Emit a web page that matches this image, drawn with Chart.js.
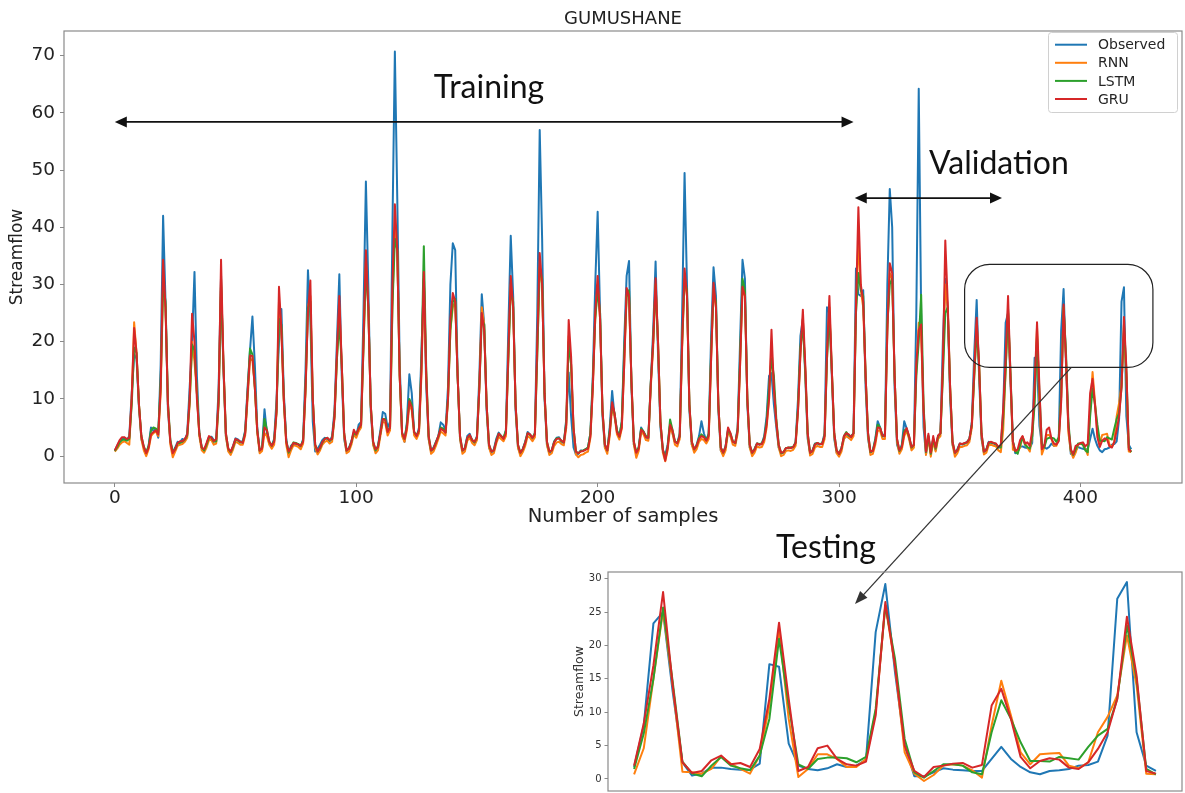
<!DOCTYPE html>
<html>
<head>
<meta charset="utf-8">
<script src="https://cdn.jsdelivr.net/npm/chart.js@4.4.1/dist/chart.umd.min.js"></script>
<style>
  html, body { margin: 0; padding: 0; background: #ffffff; overflow: hidden; width: 1185px; height: 793px; }
  #mainCanvas { position: absolute; left: 0; top: 0; }
  #insetCanvas { position: absolute; left: 560px; top: 560px; }
</style>
</head>
<body>
<canvas id="mainCanvas" width="1185" height="793"></canvas>
<canvas id="insetCanvas" width="625" height="240"></canvas>
<script>
// ---- labels, ticks and colours ----
const chartTitle = 'GUMUSHANE';
const xAxisTitle = 'Number of samples';
const yAxisTitle = 'Streamflow';
const seriesNames = ['Observed', 'RNN', 'LSTM', 'GRU'];
const seriesColors = ['#1f77b4', '#ff7f0e', '#2ca02c', '#d62728'];
const xTickValues = [0, 100, 200, 300, 400];
const yTickValues = [0, 10, 20, 30, 40, 50, 60, 70];
const insetYTickValues = [0, 5, 10, 15, 20, 25, 30];

// ---- monthly streamflow, samples 0-366 (training + validation) ----
const observedTrainVal = [
  1.0, 1.8, 2.6, 3.1, 3.2, 2.8, 3.5, 11.0, 17.8, 17.0,
  8.5, 3.0, 1.5, 0.3, 1.8, 5.0, 4.4, 4.8, 3.2, 16.0,
  42.0, 27.0, 8.0, 2.5, 0.6, 1.5, 2.5, 2.4, 3.0, 2.8,
  4.0, 12.0, 20.0, 32.2, 14.0, 4.0, 1.5, 1.0, 2.0, 3.3,
  3.4, 2.8, 2.6, 12.0, 31.5, 15.0, 3.5, 1.0, 0.6, 1.8,
  3.1, 2.9, 2.5, 2.6, 4.5, 12.0, 18.5, 24.4, 16.0, 5.0,
  0.8, 1.5, 8.2, 4.0, 2.2, 1.8, 3.0, 10.0, 20.0, 25.7,
  11.0, 3.0, 0.5, 1.8, 2.2, 2.0, 2.1, 1.6, 3.0, 15.0,
  32.5, 24.0, 6.0, 0.8, 1.3, 2.0, 2.8, 3.2, 3.0, 2.6,
  3.5, 8.0, 20.0, 31.8, 14.0, 3.0, 0.8, 1.5, 2.6, 4.2,
  3.5, 5.5, 6.0, 25.0, 48.0, 30.0, 8.0, 2.0, 1.0, 1.8,
  4.5, 7.7, 7.4, 5.0, 6.0, 40.0, 70.7, 45.0, 16.0, 4.0,
  2.5, 6.0, 14.3, 11.0, 4.0, 3.3, 5.0, 18.0, 31.0, 12.0,
  3.0, 0.8, 1.5, 2.5, 3.5, 5.9, 5.5, 4.5, 12.0, 30.0,
  37.2, 36.0, 14.0, 3.0, 0.8, 1.5, 3.5, 3.9, 2.8, 2.3,
  3.5, 14.0, 28.3, 23.0, 8.0, 1.5, 0.6, 1.2, 3.0, 4.1,
  3.5, 3.0, 4.5, 22.0, 38.5, 28.0, 8.0, 1.5, 0.4, 1.3,
  2.5, 4.2, 3.8, 3.0, 4.0, 25.0, 57.0, 38.0, 10.0, 2.0,
  0.5, 1.0, 2.6, 3.2, 3.3, 2.6, 2.2, 6.5, 14.6, 7.0,
  1.5, 0.3, 0.4, 1.0, 0.9, 1.2, 1.5, 4.0, 14.0, 30.0,
  42.7, 25.0, 7.0, 1.5, 1.0, 5.0, 11.4, 7.0, 4.5, 3.5,
  6.0, 20.0, 31.5, 34.1, 12.0, 2.0, 0.6, 1.5, 5.0, 4.2,
  3.3, 3.0, 12.6, 22.0, 34.0, 18.0, 5.0, 1.0, 0.2, 2.0,
  5.5, 4.0, 2.5, 2.2, 4.0, 25.0, 49.5, 30.0, 8.0, 2.0,
  1.1, 2.0, 3.5, 6.1, 4.0, 2.7, 4.0, 21.0, 33.0, 28.0,
  8.0, 1.0, 0.5, 1.8, 4.6, 3.5, 2.5, 2.2, 5.0, 20.0,
  34.3, 31.0, 9.0, 1.5, 0.5, 1.3, 2.2, 2.0, 2.2, 3.5,
  7.0, 14.0, 14.5, 9.0, 5.0, 1.5, 0.5, 0.6, 1.4, 1.4,
  1.5, 1.5, 2.5, 10.0, 21.0, 24.0, 14.0, 3.0, 0.5, 1.0,
  2.2, 2.2, 2.0, 2.2, 4.0, 26.0, 25.0, 14.0, 3.0, 0.6,
  0.3, 1.5, 3.0, 3.7, 3.2, 3.5, 4.0, 32.8, 28.3, 28.0,
  29.0, 12.0, 3.0, 0.6, 1.0, 3.0, 6.1, 5.0, 3.3, 4.0,
  30.0, 46.7, 40.0, 12.0, 2.0, 0.8, 2.0, 6.1, 4.8, 3.3,
  1.4, 2.0, 25.0, 64.2, 25.0, 5.0, 0.3, 3.5, 0.5, 3.0,
  1.0, 3.5, 4.0, 20.0, 31.0, 26.0, 10.0, 2.0, 0.5, 1.2,
  2.2, 2.0, 2.2, 2.5, 3.0, 6.0, 18.0, 27.3, 14.0, 3.0,
  0.6, 1.2, 2.5, 2.3, 2.2, 2.0, 1.5
];
const rnnTrainVal = [
  0.8, 1.3, 2.0, 2.4, 2.6, 2.3, 2.0, 10.0, 23.4, 18.0,
  9.0, 3.0, 1.0, 0.0, 1.2, 3.5, 4.0, 4.3, 3.5, 11.0,
  30.0, 26.0, 9.0, 2.0, -0.2, 0.8, 1.8, 2.0, 2.1, 2.5,
  3.2, 9.0, 20.0, 16.5, 11.0, 3.5, 1.0, 0.6, 1.5, 2.8,
  2.8, 2.0, 2.2, 9.0, 31.0, 16.0, 3.5, 0.8, 0.2, 1.2,
  2.5, 2.3, 2.0, 2.0, 3.6, 10.0, 17.0, 16.8, 12.0, 4.0,
  0.5, 0.9, 4.0, 3.5, 2.0, 1.3, 2.0, 7.5, 27.0, 22.0,
  9.5, 2.0, -0.2, 1.0, 1.9, 1.8, 1.6, 1.2, 2.2, 11.0,
  26.0, 28.0, 10.0, 1.5, 0.3, 1.0, 2.0, 2.5, 2.7, 2.2,
  2.5, 6.5, 17.0, 26.0, 16.0, 3.5, 0.5, 0.8, 2.0, 3.8,
  3.2, 4.3, 5.0, 19.0, 34.0, 26.0, 9.0, 2.0, 0.5, 1.0,
  3.5, 6.0, 5.8, 3.6, 4.5, 27.0, 40.0, 36.0, 14.0, 3.5,
  2.5, 4.5, 9.0, 8.0, 3.6, 3.0, 4.0, 14.0, 31.0, 14.0,
  3.0, 0.4, 0.8, 1.8, 3.0, 4.3, 4.0, 3.6, 9.5, 22.0,
  26.0, 27.0, 14.0, 3.0, 0.4, 0.8, 2.7, 3.2, 2.3, 1.9,
  2.8, 12.0, 26.0, 23.0, 9.0, 1.5, 0.2, 0.5, 2.2, 3.4,
  3.0, 2.6, 3.5, 17.0, 30.0, 26.0, 9.0, 1.5, 0.0, 0.7,
  1.8, 3.5, 3.2, 2.6, 3.3, 18.0, 33.0, 30.0, 11.0, 2.0,
  0.2, 0.5, 1.8, 2.4, 2.5, 2.1, 1.9, 5.0, 21.0, 16.0,
  4.5, 0.3, -0.2, 0.2, 0.3, 0.6, 0.8, 3.2, 12.0, 24.0,
  30.0, 24.0, 8.0, 1.5, 0.4, 3.5, 8.5, 7.0, 3.8, 2.9,
  4.8, 16.0, 28.0, 28.0, 13.0, 2.0, -0.3, 0.9, 4.2, 3.8,
  2.8, 2.7, 12.0, 19.0, 30.0, 20.0, 6.0, 0.6, -0.9, 1.0,
  5.0, 4.0, 2.0, 1.7, 3.0, 19.0, 31.0, 28.0, 9.0, 2.0,
  0.6, 1.2, 2.5, 3.0, 2.8, 2.2, 3.0, 17.0, 29.0, 26.0,
  9.0, 1.0, 0.0, 1.0, 4.2, 3.5, 2.0, 1.8, 4.0, 16.0,
  29.0, 28.0, 10.0, 1.5, 0.0, 0.6, 1.7, 1.5, 1.6, 2.5,
  5.0, 10.0, 19.0, 12.0, 6.0, 1.5, 0.0, 0.2, 0.9, 1.0,
  0.9, 1.1, 1.8, 8.0, 18.0, 24.0, 15.0, 3.5, 0.1, 0.4,
  1.5, 1.8, 1.6, 1.6, 3.0, 17.0, 26.0, 15.0, 3.5, 0.5,
  -0.1, 0.8, 3.0, 3.5, 3.2, 2.8, 3.5, 25.0, 38.0, 29.0,
  26.0, 14.0, 3.5, 0.2, 0.4, 2.0, 4.5, 4.4, 3.0, 3.0,
  22.0, 32.0, 31.0, 14.0, 2.5, 0.4, 1.2, 3.5, 4.4, 3.0,
  1.0, 1.5, 15.0, 23.3, 21.0, 8.0, 0.2, 3.2, -0.1, 2.6,
  0.8, 3.0, 3.5, 15.0, 30.0, 26.0, 12.0, 2.0, -0.1, 0.5,
  1.6, 1.6, 1.8, 1.9, 2.5, 5.0, 14.0, 23.0, 16.0, 3.5,
  0.3, 0.6, 1.9, 2.0, 1.8, 1.7, 1.0
];
const lstmTrainVal = [
  0.9, 1.6, 2.4, 2.8, 2.9, 2.7, 3.0, 9.0, 19.0, 18.0,
  9.0, 3.5, 1.7, 0.6, 1.8, 4.5, 5.0, 4.8, 4.2, 13.0,
  30.0, 27.0, 9.5, 2.8, 0.8, 1.2, 2.2, 2.3, 2.5, 2.9,
  3.6, 9.5, 19.5, 18.5, 11.0, 4.0, 1.5, 1.0, 2.0, 3.3,
  3.2, 2.5, 2.6, 9.5, 30.0, 16.0, 4.0, 1.3, 0.7, 1.6,
  2.9, 2.7, 2.4, 2.4, 4.2, 11.0, 18.8, 17.8, 12.0, 4.5,
  1.0, 1.4, 6.5, 4.6, 2.5, 1.8, 2.7, 8.0, 24.0, 23.0,
  10.0, 2.7, 0.6, 1.5, 2.4, 2.3, 2.1, 1.8, 2.7, 12.0,
  26.0, 27.0, 10.0, 2.0, 0.8, 1.4, 2.4, 3.0, 3.2, 2.7,
  3.0, 7.0, 17.0, 23.5, 16.0, 4.0, 1.0, 1.3, 2.5, 4.0,
  3.8, 4.8, 5.5, 19.0, 33.0, 26.0, 9.0, 2.5, 1.0, 1.6,
  4.0, 6.5, 6.5, 4.4, 5.0, 26.0, 38.0, 36.0, 14.0, 4.0,
  3.0, 5.5, 10.0, 9.0, 4.2, 3.6, 4.5, 16.0, 36.7, 15.0,
  3.5, 1.0, 1.3, 2.4, 3.4, 5.0, 4.8, 4.2, 10.0, 22.0,
  27.0, 27.5, 14.0, 3.5, 1.0, 1.3, 3.2, 3.6, 2.8, 2.4,
  3.3, 12.0, 24.0, 23.0, 9.0, 2.0, 0.8, 1.0, 2.7, 3.9,
  3.5, 3.2, 4.5, 17.0, 29.0, 27.0, 9.0, 2.0, 0.6, 1.2,
  2.4, 4.0, 3.7, 3.2, 4.0, 18.0, 33.0, 31.0, 11.0, 2.5,
  0.8, 1.0, 2.5, 3.1, 3.1, 2.6, 2.4, 6.0, 20.0, 16.0,
  5.0, 0.8, 0.5, 0.9, 1.0, 1.2, 1.5, 4.0, 13.0, 24.0,
  29.0, 25.0, 8.0, 2.0, 1.0, 4.5, 9.0, 7.5, 4.5, 3.4,
  6.0, 18.0, 28.0, 29.0, 13.0, 2.5, 0.7, 1.5, 4.8, 4.3,
  3.5, 3.3, 12.8, 20.0, 30.0, 20.0, 6.0, 1.2, -0.4, 1.6,
  6.4, 4.6, 2.6, 2.3, 3.5, 20.0, 31.0, 29.0, 9.0, 2.5,
  1.2, 1.8, 3.2, 3.8, 3.4, 2.8, 3.8, 18.0, 29.0, 27.0,
  9.0, 1.5, 0.6, 1.6, 4.6, 4.0, 2.6, 2.3, 4.6, 17.0,
  31.0, 29.0, 10.0, 2.0, 0.6, 1.2, 2.2, 2.1, 2.2, 3.2,
  6.0, 12.0, 17.0, 14.0, 6.5, 2.0, 0.5, 0.7, 1.4, 1.5,
  1.5, 1.6, 2.4, 8.5, 19.0, 23.0, 15.0, 4.0, 0.6, 0.9,
  2.1, 2.3, 2.1, 2.2, 3.6, 17.0, 25.0, 15.0, 4.0, 1.0,
  0.4, 1.4, 3.5, 4.2, 3.6, 3.4, 4.0, 25.0, 32.0, 29.0,
  28.0, 14.0, 4.0, 0.7, 1.0, 2.8, 5.5, 5.0, 3.5, 3.6,
  23.0, 30.0, 31.0, 14.0, 3.0, 0.9, 1.8, 4.5, 4.7, 3.4,
  1.5, 2.0, 14.0, 20.0, 28.2, 9.0, 0.7, 3.5, 0.4, 3.0,
  1.3, 3.4, 4.0, 14.0, 25.0, 26.0, 12.0, 2.5, 0.6, 1.0,
  2.1, 2.1, 2.2, 2.4, 3.0, 5.5, 14.0, 22.0, 16.0, 4.0,
  0.8, 1.1, 2.3, 2.4, 2.3, 2.1, 1.5
];
const gruTrainVal = [
  1.0, 1.9, 2.8, 3.3, 3.3, 3.0, 3.2, 10.0, 22.4, 18.0,
  9.0, 3.5, 1.6, 0.5, 1.5, 3.8, 4.2, 4.5, 3.8, 12.0,
  34.3, 26.0, 9.0, 2.5, 0.5, 1.2, 2.3, 2.6, 2.6, 3.0,
  3.8, 10.0, 24.9, 20.0, 10.0, 4.0, 1.5, 1.2, 2.3, 3.5,
  3.2, 2.6, 3.0, 10.0, 34.3, 16.0, 4.0, 1.3, 0.8, 1.8,
  3.0, 2.8, 2.5, 2.3, 4.0, 11.0, 17.6, 17.5, 12.0, 4.5,
  1.0, 1.3, 5.0, 4.5, 2.5, 1.8, 2.5, 8.0, 29.6, 22.0,
  10.0, 2.5, 0.8, 1.5, 2.3, 2.2, 2.0, 1.8, 2.5, 12.0,
  25.0, 30.7, 10.0, 2.0, 0.8, 1.5, 2.5, 3.0, 3.2, 2.8,
  3.0, 7.0, 18.0, 28.0, 16.0, 4.0, 1.0, 1.3, 2.5, 4.6,
  3.8, 4.8, 5.5, 20.0, 36.0, 26.0, 9.0, 2.5, 1.2, 1.6,
  4.0, 6.5, 6.3, 4.2, 5.0, 30.0, 44.0, 36.0, 14.0, 4.0,
  3.0, 5.0, 9.6, 8.5, 4.2, 3.5, 4.5, 15.0, 32.2, 14.0,
  3.5, 1.0, 1.3, 2.3, 3.5, 4.8, 4.5, 4.1, 10.0, 24.0,
  28.5, 27.0, 14.0, 3.5, 1.0, 1.3, 3.2, 3.7, 2.8, 2.5,
  3.2, 12.0, 25.0, 22.0, 9.0, 2.0, 0.8, 1.0, 2.6, 3.9,
  3.5, 3.0, 4.0, 18.0, 31.5, 26.0, 9.0, 2.0, 0.6, 1.2,
  2.3, 4.0, 3.8, 3.2, 3.8, 20.0, 35.5, 30.0, 11.0, 2.5,
  0.8, 1.0, 2.4, 3.0, 3.1, 2.7, 2.4, 5.5, 23.8, 17.4,
  5.0, 0.8, 0.5, 0.8, 0.9, 1.1, 1.3, 3.5, 12.0, 25.0,
  31.5, 24.0, 8.0, 2.0, 1.0, 4.0, 9.4, 7.5, 4.2, 3.4,
  5.0, 16.0, 29.4, 28.0, 13.0, 2.5, 0.6, 1.3, 4.6, 4.2,
  3.3, 3.2, 12.5, 20.0, 31.1, 20.0, 6.0, 1.2, -0.8, 1.5,
  5.5, 4.5, 2.5, 2.2, 3.5, 20.0, 32.8, 28.0, 9.0, 2.5,
  1.2, 1.8, 3.0, 3.5, 3.3, 2.7, 3.5, 17.0, 30.3, 26.0,
  9.0, 1.5, 0.6, 1.6, 5.0, 4.0, 2.5, 2.3, 4.5, 16.0,
  29.6, 28.0, 10.0, 2.0, 0.6, 1.1, 2.2, 2.0, 2.1, 3.0,
  5.5, 10.0, 22.1, 12.0, 6.0, 2.0, 0.6, 0.7, 1.4, 1.5,
  1.4, 1.6, 2.3, 8.0, 18.0, 25.6, 16.0, 4.0, 0.6, 0.9,
  2.0, 2.3, 2.1, 2.1, 3.5, 18.0, 28.0, 15.0, 4.0, 1.0,
  0.4, 1.3, 3.5, 4.0, 3.8, 3.3, 4.0, 26.0, 43.5, 30.0,
  27.0, 14.0, 4.0, 0.8, 0.9, 2.5, 5.0, 4.9, 3.6, 3.5,
  22.0, 33.7, 32.0, 14.0, 3.0, 1.0, 1.6, 4.0, 4.9, 3.5,
  1.6, 2.0, 16.0, 22.0, 23.0, 8.0, 0.8, 3.9, 0.6, 3.5,
  1.5, 3.6, 4.0, 16.0, 37.7, 27.0, 12.0, 2.5, 0.6, 1.0,
  2.2, 2.1, 2.3, 2.4, 3.0, 5.5, 15.0, 24.2, 16.0, 4.0,
  0.8, 1.1, 2.4, 2.5, 2.3, 2.2, 1.6
];

// ---- testing period, samples 367-421 ----
const observedTest = [
  1.8, 8.0, 23.3, 25.0, 13.0, 2.5, 0.5, 0.8, 1.7, 1.7,
  1.5, 1.4, 1.4, 2.3, 17.2, 16.8, 5.3, 2.0, 1.5, 1.3,
  1.6, 2.2, 1.8, 2.0, 2.9, 22.0, 29.2, 16.0, 5.0, 0.4,
  0.4, 1.0, 1.6, 1.4, 1.3, 1.2, 1.2, 3.0, 4.8, 3.0,
  1.8, 1.0, 0.7, 1.2, 1.3, 1.5, 2.0, 2.1, 2.6, 6.5,
  27.0, 29.5, 7.0, 2.0, 1.2
];
const rnnTest = [
  0.7, 4.6, 15.0, 25.2, 14.0, 1.1, 1.0, 0.8, 1.5, 3.4,
  2.3, 1.5, 0.8, 3.5, 11.0, 22.5, 9.0, 0.3, 1.5, 3.7,
  3.7, 3.0, 1.8, 1.8, 3.0, 10.0, 26.0, 17.0, 4.0, 0.8,
  -0.3, 0.6, 2.0, 2.2, 2.0, 1.3, 0.2, 8.0, 14.7, 9.5,
  4.0, 2.2, 3.7, 3.8, 3.9, 2.0, 1.6, 2.5, 7.0, 9.3,
  12.5, 21.5, 14.0, 0.8, 0.7
];
const lstmTest = [
  1.5, 6.8, 15.0, 25.7, 14.5, 2.6, 0.8, 0.4, 2.0, 3.3,
  2.0, 1.6, 1.3, 3.5, 9.0, 21.0, 11.0, 2.2, 1.5, 3.0,
  3.2, 3.2, 3.1, 2.5, 3.3, 10.5, 26.0, 18.0, 6.0, 1.0,
  0.2, 1.2, 2.2, 2.2, 2.0, 1.0, 0.7, 7.0, 11.8, 9.0,
  5.5, 2.7, 2.7, 2.6, 3.3, 3.1, 2.9, 4.8, 6.5, 7.5,
  12.0, 23.0, 15.0, 1.5, 0.7
];
const gruTest = [
  2.0, 8.3, 17.0, 28.0, 14.0, 2.5, 0.9, 1.2, 2.8, 3.5,
  2.2, 2.4, 1.8, 4.5, 12.0, 23.4, 12.0, 1.2, 1.8, 4.6,
  5.0, 3.0, 2.2, 2.0, 2.6, 9.5, 26.5, 17.0, 5.0, 1.2,
  0.3, 1.8, 2.0, 2.3, 2.4, 1.7, 2.1, 11.0, 13.5, 9.0,
  3.3, 1.6, 2.7, 3.1, 2.9, 1.7, 1.5, 2.5, 4.5, 7.0,
  12.0, 24.3, 15.5, 1.2, 0.8
];

// ---- helpers ----
const fullSeries = [
  observedTrainVal.concat(observedTest),
  rnnTrainVal.concat(rnnTest),
  lstmTrainVal.concat(lstmTest),
  gruTrainVal.concat(gruTest)
];
const testSeries = [observedTest, rnnTest, lstmTest, gruTest];
const toPoints = vals => vals.map((v, i) => ({ x: i, y: v }));
const fixedTicks = values => scale => { scale.ticks = values.map(v => ({ value: v })); };
const dejavu = "'DejaVu Sans', 'Liberation Sans', sans-serif";
const calloutFont = "Lato, 'Open Sans', sans-serif";

function makeDatasets(seriesList, width) {
  return seriesList.map((vals, k) => ({
    label: seriesNames[k],
    data: toPoints(vals),
    borderColor: seriesColors[k],
    backgroundColor: seriesColors[k],
    borderWidth: width,
    pointRadius: 0,
    tension: 0,
    fill: false,
    borderJoinStyle: 'round',
    order: seriesNames.length - 1 - k
  }));
}

function arrowHead(ctx, x0, y0, x1, y1, len, half) {
  const a = Math.atan2(y1 - y0, x1 - x0);
  const c = Math.cos(a), s = Math.sin(a);
  ctx.beginPath();
  ctx.moveTo(x1, y1);
  ctx.lineTo(x1 - len * c + half * s, y1 - len * s - half * c);
  ctx.lineTo(x1 - len * c - half * s, y1 - len * s + half * c);
  ctx.closePath();
  ctx.fill();
}

function arrowLine(ctx, x0, y0, x1, y1, len, half, both) {
  const a = Math.atan2(y1 - y0, x1 - x0);
  const c = Math.cos(a), s = Math.sin(a);
  ctx.beginPath();
  ctx.moveTo(both ? x0 + len * c * 0.8 : x0, both ? y0 + len * s * 0.8 : y0);
  ctx.lineTo(x1 - len * c * 0.8, y1 - len * s * 0.8);
  ctx.stroke();
  arrowHead(ctx, x0, y0, x1, y1, len, half);
  if (both) arrowHead(ctx, x1, y1, x0, y0, len, half);
}

// period markers (x in sample numbers, y in streamflow units)
const trainingSpan = { from: 0, to: 306, y: 58.4 };
const validationSpan = { from: 306.5, to: 367.5, y: 45.1 };
const testBox = { x0: 352, x1: 430, y0: 15.5, y1: 33.5, radius: 25 };
const testPointer = { x: 396.2, y: 15.5, endPx: 855, endPy: 604 };

const frameAndNotes = {
  id: 'frameAndNotes',
  afterDraw(chart) {
    const { ctx, chartArea: ca, scales: { x, y } } = chart;
    ctx.save();
    // axes frame
    ctx.strokeStyle = '#8a8a8a';
    ctx.lineWidth = 1.2;
    ctx.strokeRect(ca.left, ca.top, ca.right - ca.left, ca.bottom - ca.top);

    // legend
    const lx = 1048, ly = 32, lw = 129, lh = 80;
    ctx.fillStyle = 'rgba(255,255,255,0.85)';
    ctx.strokeStyle = '#d0d0d0';
    ctx.lineWidth = 1;
    ctx.beginPath();
    ctx.roundRect(lx + 0.5, ly + 0.5, lw, lh, 3);
    ctx.fill();
    ctx.stroke();
    ctx.font = '14px ' + dejavu;
    ctx.textBaseline = 'middle';
    ctx.textAlign = 'left';
    chart.data.datasets.forEach((ds, k) => {
      const ry = 44.7 + k * 18.1;
      ctx.strokeStyle = ds.borderColor;
      ctx.lineWidth = 2;
      ctx.beginPath();
      ctx.moveTo(1055, ry);
      ctx.lineTo(1087, ry);
      ctx.stroke();
      ctx.fillStyle = '#262626';
      ctx.fillText(ds.label, 1098, ry + 1);
    });

    // training / validation arrows
    ctx.strokeStyle = '#111';
    ctx.fillStyle = '#111';
    ctx.lineWidth = 1.8;
    arrowLine(ctx, x.getPixelForValue(trainingSpan.from), y.getPixelForValue(trainingSpan.y),
      x.getPixelForValue(trainingSpan.to), y.getPixelForValue(trainingSpan.y), 12, 5.5, true);
    arrowLine(ctx, x.getPixelForValue(validationSpan.from), y.getPixelForValue(validationSpan.y),
      x.getPixelForValue(validationSpan.to), y.getPixelForValue(validationSpan.y), 12, 5.5, true);

    // callout words
    ctx.fillStyle = '#111';
    ctx.font = '32px ' + calloutFont;
    ctx.textAlign = 'center';
    ctx.textBaseline = 'alphabetic';
    ctx.fillText('Training', x.getPixelForValue(155), 98);
    ctx.fillText('Validation', x.getPixelForValue(366.2), 174);
    ctx.fillText('Testing', 826, 558);

    // box round the testing period and pointer to the enlarged view
    ctx.strokeStyle = '#222';
    ctx.lineWidth = 1.2;
    const bx0 = x.getPixelForValue(testBox.x0), bx1 = x.getPixelForValue(testBox.x1);
    const by0 = y.getPixelForValue(testBox.y1), by1 = y.getPixelForValue(testBox.y0);
    ctx.beginPath();
    ctx.roundRect(bx0, by0, bx1 - bx0, by1 - by0, testBox.radius);
    ctx.stroke();
    ctx.strokeStyle = '#333';
    ctx.fillStyle = '#333';
    ctx.lineWidth = 1.3;
    arrowLine(ctx, x.getPixelForValue(testPointer.x), y.getPixelForValue(testPointer.y),
      testPointer.endPx, testPointer.endPy, 13, 5, false);
    ctx.restore();
  }
};

const insetFrame = {
  id: 'insetFrame',
  afterDraw(chart) {
    const { ctx, chartArea: ca } = chart;
    ctx.save();
    ctx.strokeStyle = '#8a8a8a';
    ctx.lineWidth = 1.2;
    ctx.strokeRect(ca.left, ca.top, ca.right - ca.left, ca.bottom - ca.top);
    ctx.restore();
  }
};

// ---- main chart ----
new Chart(document.getElementById('mainCanvas'), {
  type: 'line',
  data: { datasets: makeDatasets(fullSeries, 2) },
  options: {
    responsive: false,
    animation: false,
    devicePixelRatio: 1,
    layout: { padding: { left: 0, right: 3, top: 0, bottom: 260 } },
    plugins: {
      legend: { display: false },
      tooltip: { enabled: false },
      title: {
        display: true, text: chartTitle, fullSize: false, color: '#222',
        font: { family: dejavu, size: 18, weight: 'normal' },
        padding: { top: 9, bottom: 0.4 }
      }
    },
    scales: {
      x: {
        type: 'linear', min: -21.05, max: 442.05,
        afterBuildTicks: fixedTicks(xTickValues),
        afterFit: s => { s.height = 50; },
        grid: { display: true, drawOnChartArea: false, drawTicks: true, tickLength: 4, color: '#8a8a8a' },
        border: { display: false },
        ticks: { color: '#222', padding: 0, maxRotation: 0, font: { family: dejavu, size: 18.5 } },
        title: { display: true, text: xAxisTitle, color: '#222', font: { family: dejavu, size: 19.5 }, padding: { top: 4, bottom: 4 } }
      },
      y: {
        type: 'linear', min: -4.7, max: 74.3,
        afterBuildTicks: fixedTicks(yTickValues),
        afterFit: s => { s.width = 64; },
        grid: { display: true, drawOnChartArea: false, drawTicks: true, tickLength: 4, color: '#8a8a8a' },
        border: { display: false },
        ticks: { color: '#222', padding: 5, font: { family: dejavu, size: 18.5 } },
        title: { display: true, text: yAxisTitle, color: '#222', font: { family: dejavu, size: 17 }, padding: { top: 7, bottom: 4 } }
      }
    }
  },
  plugins: [frameAndNotes]
});

// ---- enlarged view of the testing period ----
new Chart(document.getElementById('insetCanvas'), {
  type: 'line',
  data: { datasets: makeDatasets(testSeries, 2) },
  options: {
    responsive: false,
    animation: false,
    devicePixelRatio: 1,
    layout: { padding: { left: 0, right: 3, top: 12, bottom: 7 } },
    plugins: { legend: { display: false }, tooltip: { enabled: false }, title: { display: false } },
    scales: {
      x: { type: 'linear', min: -2.7, max: 56.7, display: false },
      y: {
        type: 'linear', min: -1.8, max: 31.0,
        afterBuildTicks: fixedTicks(insetYTickValues),
        afterFit: s => { s.width = 48; },
        grid: { display: true, drawOnChartArea: false, drawTicks: true, tickLength: 3.5, color: '#8a8a8a' },
        border: { display: false },
        ticks: { color: '#333', padding: 3, font: { family: dejavu, size: 10 } },
        title: { display: true, text: yAxisTitle, color: '#333', font: { family: dejavu, size: 12.5 }, padding: { top: 12.5, bottom: 2 } }
      }
    }
  },
  plugins: [insetFrame]
});
</script>
</body>
</html>
